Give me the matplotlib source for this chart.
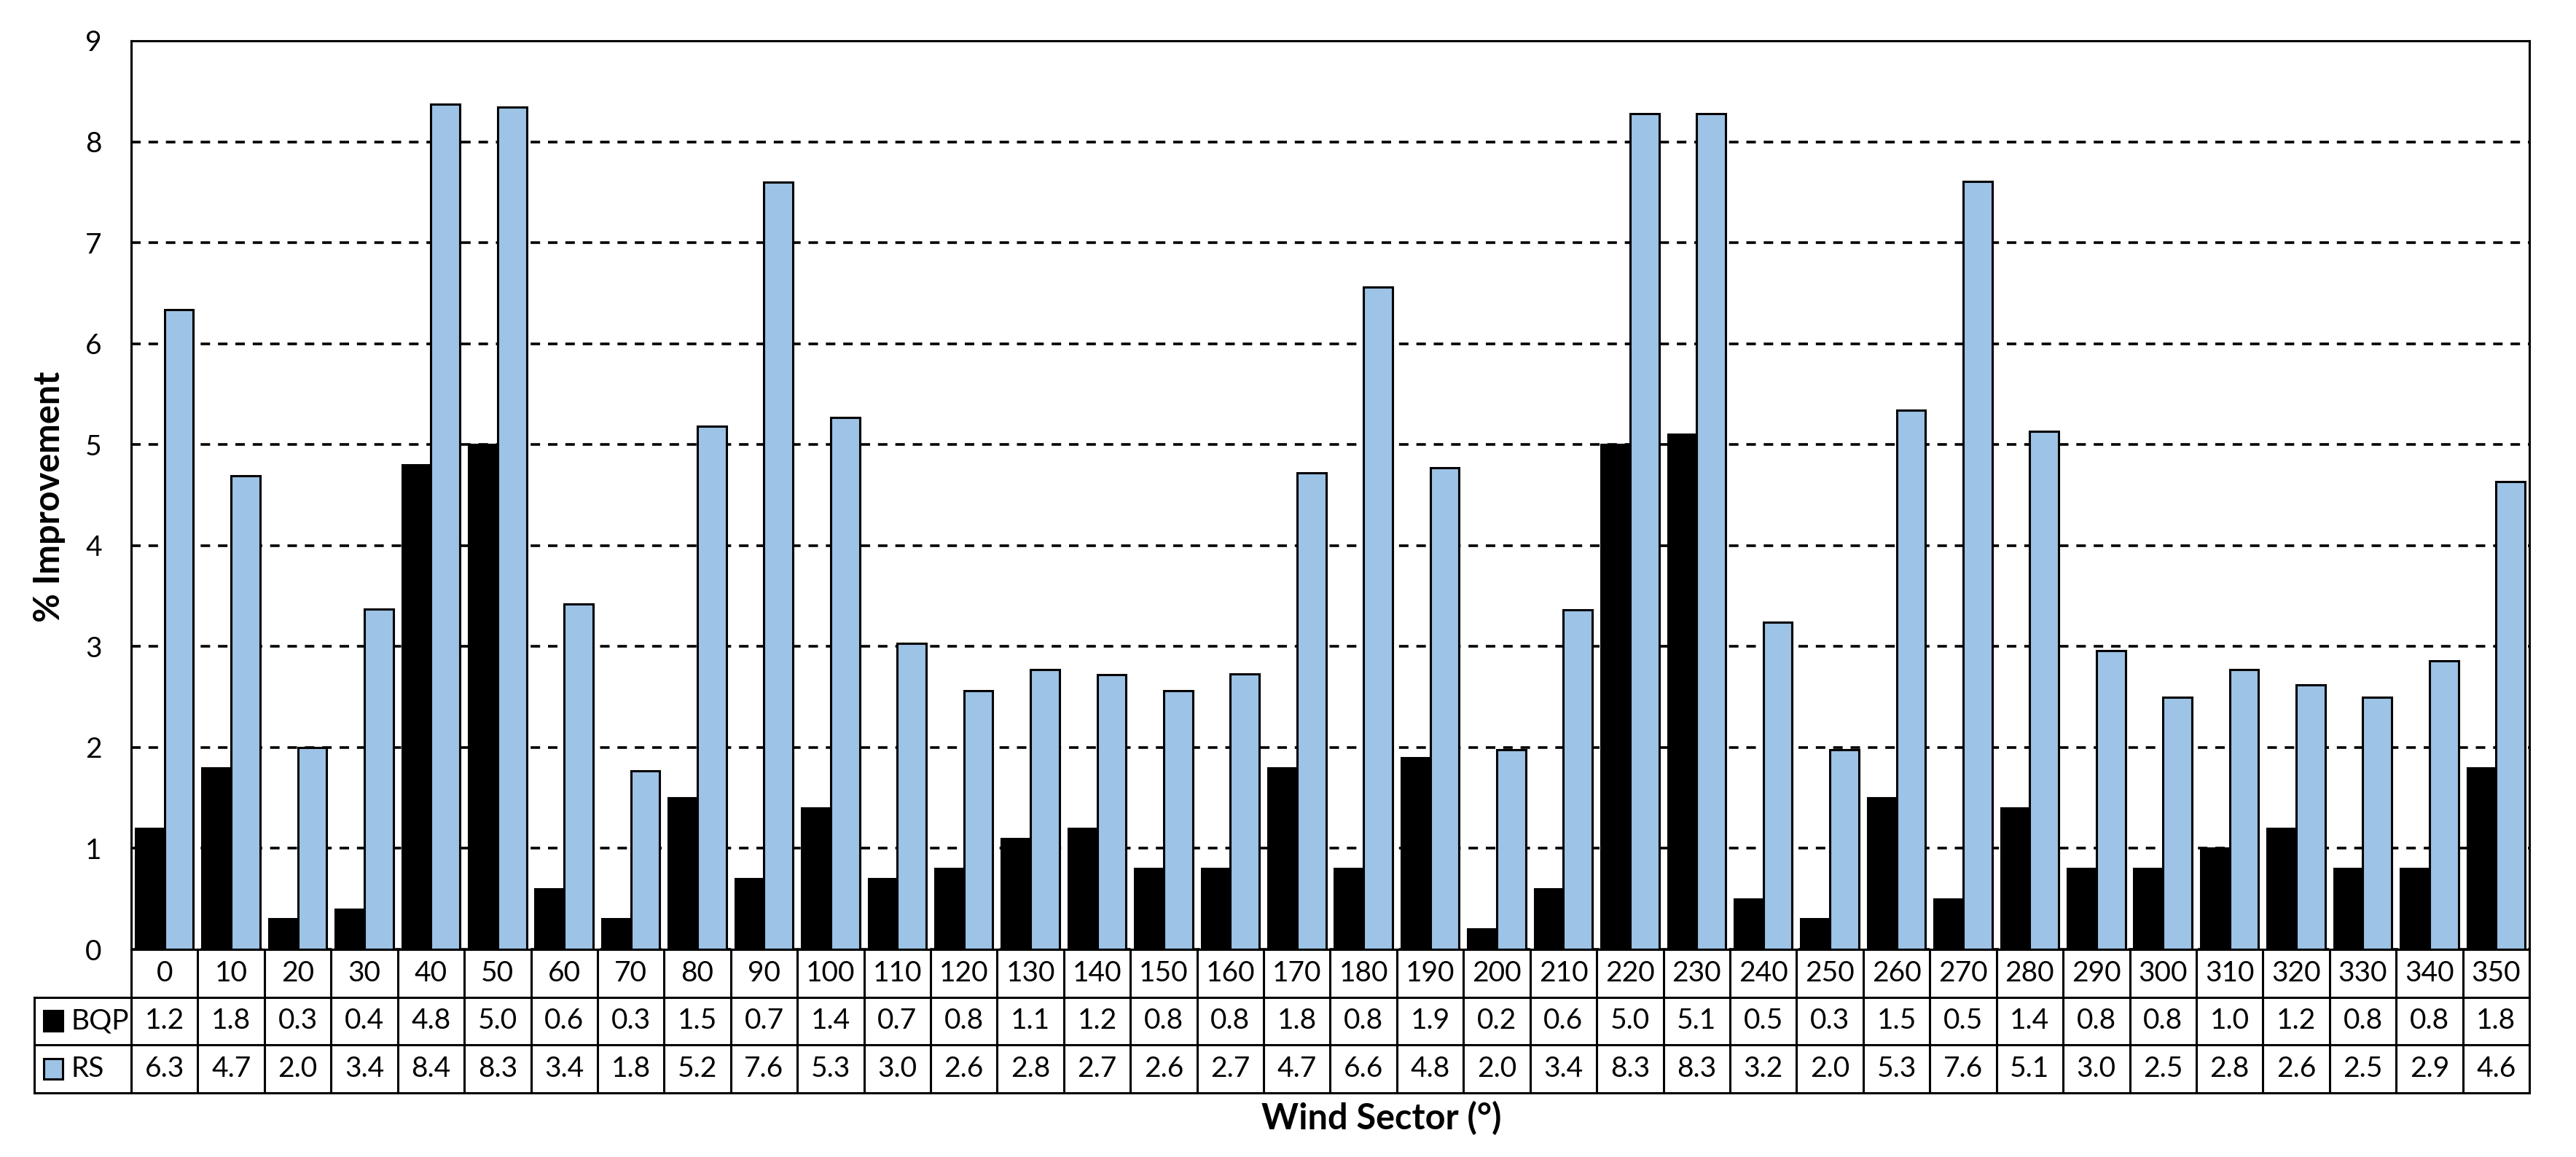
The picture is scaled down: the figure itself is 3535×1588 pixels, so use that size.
import numpy as np
import matplotlib
matplotlib.use('Agg')
import matplotlib.pyplot as plt
from matplotlib.patches import Rectangle

plt.rcParams['font.family'] = ['Lato', 'DejaVu Sans']

# Daten
sectors = [0, 10, 20, 30, 40, 50, 60, 70, 80, 90, 100, 110, 120, 130, 140, 150, 160, 170,
           180, 190, 200, 210, 220, 230, 240, 250, 260, 270, 280, 290, 300, 310, 320, 330, 340, 350]
bqp = [1.2, 1.8, 0.3, 0.4, 4.8, 5.0, 0.6, 0.3, 1.5, 0.7, 1.4, 0.7, 0.8, 1.1, 1.2, 0.8, 0.8, 1.8,
       0.8, 1.9, 0.2, 0.6, 5.0, 5.1, 0.5, 0.3, 1.5, 0.5, 1.4, 0.8, 0.8, 1.0, 1.2, 0.8, 0.8, 1.8]
rs = [6.34, 4.69, 2.0, 3.37, 8.37, 8.34, 3.42, 1.77, 5.18, 7.6, 5.27, 3.03, 2.56, 2.77, 2.72, 2.56,
      2.73, 4.72, 6.56, 4.77, 1.98, 3.36, 8.28, 8.28, 3.24, 1.98, 5.34, 7.61, 5.13, 2.96, 2.5, 2.77,
      2.62, 2.5, 2.86, 4.63]
series_names = ['BQP', 'RS']
series_colors = ['#000000', '#9DC3E6']

fs = 28
fs_title = 35
lw = 2.2
x = np.arange(len(sectors))
bw = 0.435

fig = plt.figure(figsize=(35.35, 15.88), dpi=100)
ax = fig.add_axes([180 / 3535, 1 - 1303 / 1588, (3471 - 180) / 3535, (1303 - 56) / 1588])

ax.bar(x - bw / 2, bqp, bw, color=series_colors[0], edgecolor='black', linewidth=lw, zorder=3)
ax.bar(x + bw / 2, rs, bw, color=series_colors[1], edgecolor='black', linewidth=lw, zorder=3)

ax.set_xlim(-0.5, len(sectors) - 0.5)
ax.set_ylim(0, 9)
ax.set_yticks(range(0, 10))
ax.yaxis.grid(True, color='black', linewidth=2.6, linestyle=(0, (3.6, 3.0)), zorder=0)
ax.set_axisbelow(True)
ax.tick_params(axis='y', length=0, pad=29, labelsize=fs)
ax.tick_params(axis='x', length=0, labelbottom=False)
for sp in ax.spines.values():
    sp.set_linewidth(lw)
    sp.set_zorder(5)

# Datentabelle unter der Achse
tr = ax.get_xaxis_transform()
rh = 65.5 / 1247
left = -1.955
n = len(sectors)
kw = dict(color='black', linewidth=lw, clip_on=False, transform=tr, solid_capstyle='projecting')
for i in range(n + 1):
    ax.plot([i - 0.5, i - 0.5], [0, -3 * rh], **kw)
ax.plot([left, left], [-rh, -3 * rh], **kw)
for k in range(1, 4):
    ax.plot([left, n - 0.5], [-k * rh, -k * rh], **kw)

for i, s in enumerate(sectors):
    ax.text(i, -0.5 * rh, str(s), transform=tr, ha='center', va='center', fontsize=fs, clip_on=False)
    ax.text(i, -1.5 * rh, f'{bqp[i]:.1f}', transform=tr, ha='center', va='center', fontsize=fs, clip_on=False)
    ax.text(i, -2.5 * rh, f'{rs[i]:.1f}', transform=tr, ha='center', va='center', fontsize=fs, clip_on=False)

sq_w = 0.284
sq_h = 0.0225
for k, (name, c) in enumerate(zip(series_names, series_colors)):
    yc = -(1.5 + k) * rh
    ax.add_patch(Rectangle((-1.81, yc - sq_h / 2), sq_w, sq_h, transform=tr, facecolor=c,
                           edgecolor='black', linewidth=lw, clip_on=False))
    ax.text(-1.40, yc, name, transform=tr, ha='left', va='center', fontsize=fs, clip_on=False)

fig.text(68 / 3535, 1 - 682 / 1588, '% Improvement', rotation=90, ha='center', va='center',
         fontsize=fs_title, fontweight='bold')
fig.text(1896 / 3535, 1 - 1535 / 1588, 'Wind Sector (°)', ha='center', va='center',
         fontsize=fs_title, fontweight='bold')

fig.savefig('out.png', dpi=100, facecolor='white')
